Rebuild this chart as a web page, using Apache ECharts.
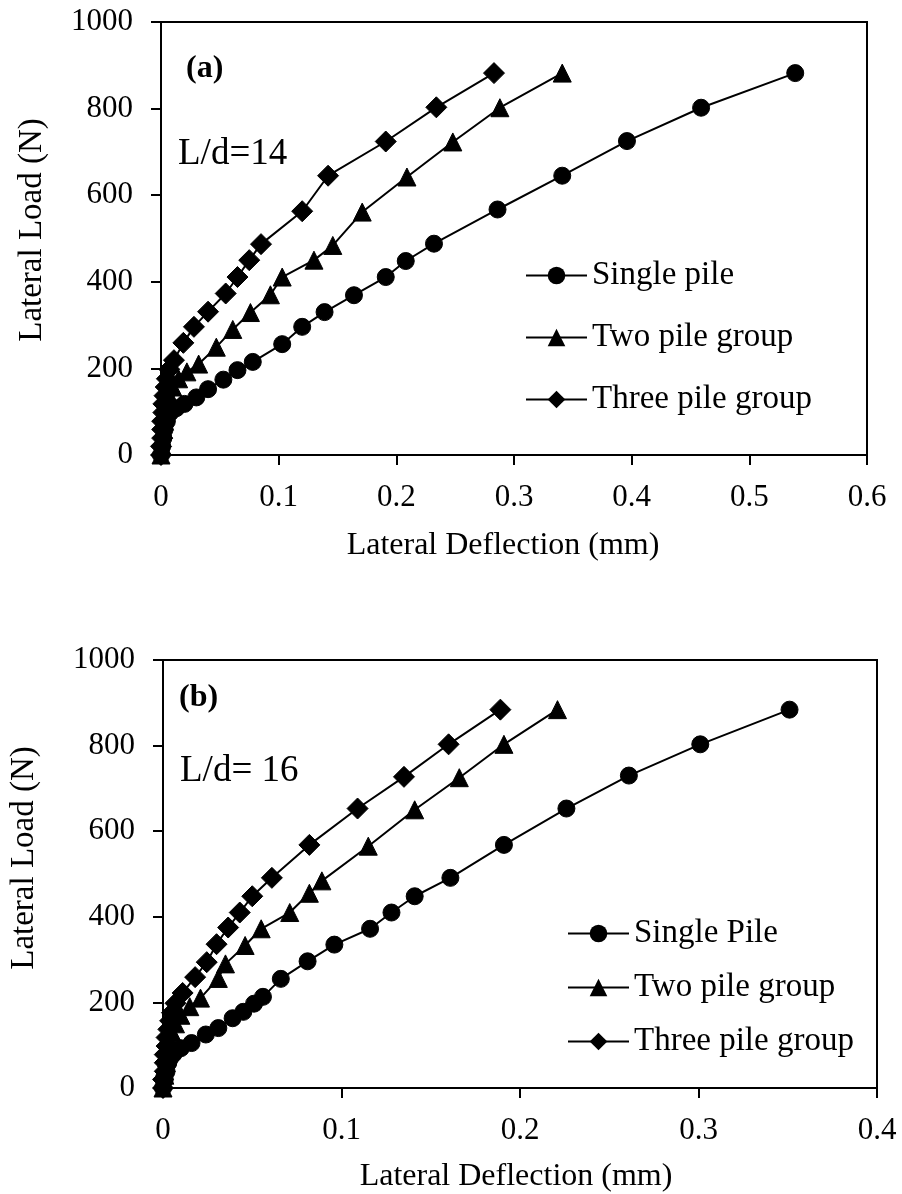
<!DOCTYPE html>
<html>
<head>
<meta charset="utf-8">
<script src="https://cdn.jsdelivr.net/npm/echarts@6/dist/echarts.min.js"></script>
<style>
html,body{margin:0;padding:0;background:#fff;}
#c{width:902px;height:1194px;}
</style>
</head>
<body>
<div id="c"></div>
<script>
// ---- Panel (a) L/d=14 ----
const singleA_x = [0, 0.001, 0.002, 0.003, 0.005, 0.008, 0.013, 0.020, 0.030, 0.040, 0.053, 0.065, 0.078, 0.103, 0.120, 0.139, 0.164, 0.191, 0.208, 0.232, 0.286, 0.341, 0.396, 0.459, 0.539];
const singleA_y = [0, 20, 39, 59, 78, 98, 108, 118, 133, 152, 174, 196, 215, 256, 296, 330, 369, 411, 448, 488, 567, 645, 725, 802, 882];
const twoA_x = [0, 0.001, 0.001, 0.002, 0.003, 0.004, 0.005, 0.007, 0.010, 0.015, 0.022, 0.032, 0.047, 0.061, 0.076, 0.093, 0.103, 0.130, 0.146, 0.171, 0.209, 0.248, 0.288, 0.341];
const twoA_y = [0, 20, 39, 59, 78, 98, 118, 137, 157, 176, 192, 210, 249, 290, 329, 370, 411, 450, 484, 561, 642, 723, 802, 882];
const threeA_x = [0, 0, 0.001, 0.001, 0.001, 0.002, 0.002, 0.003, 0.004, 0.005, 0.007, 0.011, 0.019, 0.028, 0.040, 0.055, 0.065, 0.075, 0.085, 0.120, 0.142, 0.191, 0.234, 0.283];
const threeA_y = [0, 20, 39, 59, 78, 98, 118, 137, 157, 176, 198, 219, 259, 296, 331, 373, 411, 450, 487, 563, 645, 724, 803, 882];

// ---- Panel (b) L/d=16 ----
const singleB_x = [0, 0.001, 0.002, 0.003, 0.004, 0.006, 0.010, 0.016, 0.024, 0.031, 0.039, 0.045, 0.051, 0.056, 0.066, 0.081, 0.096, 0.116, 0.128, 0.141, 0.161, 0.191, 0.226, 0.261, 0.301, 0.351];
const singleB_y = [0, 20, 39, 59, 70, 80, 93, 105, 125, 140, 163, 178, 197, 213, 255, 296, 335, 372, 410, 448, 491, 568, 653, 730, 803, 884];
const twoB_x = [0, 0.001, 0.001, 0.002, 0.003, 0.004, 0.005, 0.007, 0.010, 0.015, 0.021, 0.031, 0.035, 0.046, 0.055, 0.071, 0.082, 0.089, 0.115, 0.141, 0.166, 0.191, 0.221];
const twoB_y = [0, 30, 50, 70, 90, 110, 130, 150, 170, 190, 210, 256, 290, 333, 372, 410, 455, 484, 565, 650, 725, 803, 884];
const threeB_x = [0, 0, 0.001, 0.001, 0.001, 0.002, 0.002, 0.003, 0.004, 0.005, 0.007, 0.011, 0.018, 0.0245, 0.030, 0.0365, 0.043, 0.050, 0.061, 0.082, 0.109, 0.135, 0.160, 0.189];
const threeB_y = [0, 20, 39, 59, 78, 98, 118, 137, 157, 176, 198, 222, 259, 294, 336, 375, 410, 448, 491, 568, 653, 727, 803, 884];

const seriesNamesA = ['Single pile', 'Two pile group', 'Three pile group'];
const seriesNamesB = ['Single Pile', 'Two pile group', 'Three pile group'];

const FONT = 'Liberation Serif';
const zip = (xs, ys) => xs.map((x, i) => [x, ys[i]]);

function xAxis(gi, max, gap, pad) {
  return {
    type: 'value', gridIndex: gi, min: 0, max: max, interval: 0.1,
    axisLine: { show: true, lineStyle: { color: '#000', width: 2 } },
    axisTick: { show: true, inside: false, length: 10, lineStyle: { color: '#000', width: 2 } },
    splitLine: { show: false },
    axisLabel: { color: '#000', fontFamily: FONT, fontSize: 31, margin: 27,
      formatter: v => v === 0 ? '0' : (+v).toFixed(1) },
    name: 'Lateral Deflection (mm)', nameLocation: 'middle', nameGap: gap,
    nameTextStyle: { color: '#000', fontFamily: FONT, fontSize: 32, padding: pad }
  };
}
function yAxis(gi, gap, pad) {
  return {
    type: 'value', gridIndex: gi, min: 0, max: 1000, interval: 200,
    axisLine: { show: true, lineStyle: { color: '#000', width: 2 } },
    axisTick: { show: true, inside: false, length: 10, lineStyle: { color: '#000', width: 2 } },
    splitLine: { show: false },
    axisLabel: { color: '#000', fontFamily: FONT, fontSize: 31, margin: 28, formatter: v => String(v) },
    name: 'Lateral Load (N)', nameLocation: 'middle', nameGap: gap,
    nameTextStyle: { color: '#000', fontFamily: FONT, fontSize: 33, padding: pad }
  };
}
function line(name, gi, data, symbol, size) {
  return {
    type: 'line', name: name, xAxisIndex: gi, yAxisIndex: gi, data: data,
    symbol: symbol, symbolSize: size, showAllSymbol: true, animation: false,
    lineStyle: { color: '#000', width: 2 },
    itemStyle: { color: '#000', borderColor: '#000' },
    emphasis: { disabled: true }
  };
}

const chart = echarts.init(document.getElementById('c'), null, { renderer: 'canvas' });
chart.setOption({
  backgroundColor: '#fff',
  animation: false,
  grid: [
    { left: 161, right: 35, top: 22, height: 433, show: true, borderColor: '#000', borderWidth: 2, backgroundColor: 'transparent' },
    { left: 154, right: 25, top: 660, height: 432, show: true, borderColor: '#000', borderWidth: 2, backgroundColor: 'transparent' }
  ],
  xAxis: [xAxis(0, 0.6, 75, [0, 22, 0, 0]), xAxis(1, 0.4, 73, [0, 8, 0, 0])],
  yAxis: [yAxis(0, 112, [0, 0, 0, 17]), yAxis(1, 122, [0, 0, 0, 32])],
  legend: [
    { data: seriesNamesA.map(n => ({ name: n })), orient: 'vertical', left: 525, top: 259, padding: 0,
      itemWidth: 61, itemHeight: 22, itemGap: 29, selectedMode: false,
      textStyle: { color: '#000', fontFamily: FONT, fontSize: 33, lineHeight: 33 } },
    { data: seriesNamesB.map(n => ({ name: n })), orient: 'vertical', left: 567, top: 917, padding: 0,
      itemWidth: 61, itemHeight: 22, itemGap: 21, selectedMode: false,
      textStyle: { color: '#000', fontFamily: FONT, fontSize: 33, lineHeight: 33 } }
  ],
  series: [
    line(seriesNamesA[0], 0, zip(singleA_x, singleA_y), 'circle', 17),
    line(seriesNamesA[1], 0, zip(twoA_x, twoA_y), 'triangle', 18),
    line(seriesNamesA[2], 0, zip(threeA_x, threeA_y), 'diamond', 21),
    line(seriesNamesB[0], 1, zip(singleB_x, singleB_y), 'circle', 17),
    line(seriesNamesB[1], 1, zip(twoB_x, twoB_y), 'triangle', 18),
    line(seriesNamesB[2], 1, zip(threeB_x, threeB_y), 'diamond', 21)
  ],
  graphic: [
    { type: 'text', left: 186, top: 53, style: { text: '(a)', fontFamily: FONT, fontSize: 32, fontWeight: 'bold', fill: '#000' } },
    { type: 'text', left: 178, top: 136, style: { text: 'L/d=14', fontFamily: FONT, fontSize: 37, fill: '#000' } },
    { type: 'text', left: 179, top: 682, style: { text: '(b)', fontFamily: FONT, fontSize: 32, fontWeight: 'bold', fill: '#000' } },
    { type: 'text', left: 180, top: 753, style: { text: 'L/d= 16', fontFamily: FONT, fontSize: 37, fill: '#000' } }
  ]
});
</script>
</body>
</html>
